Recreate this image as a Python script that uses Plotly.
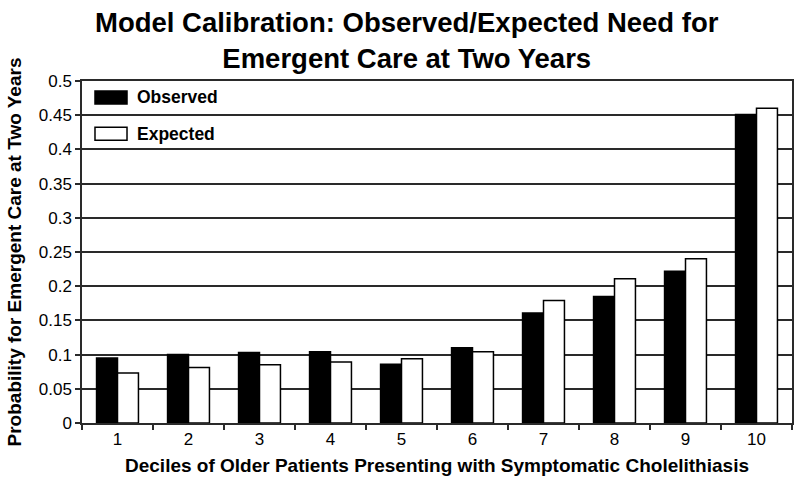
import plotly.graph_objects as go

deciles = ["1", "2", "3", "4", "5", "6", "7", "8", "9", "10"]
observed = [0.095, 0.100, 0.103, 0.104, 0.086, 0.110, 0.161, 0.185, 0.222, 0.451]
expected = [0.073, 0.081, 0.085, 0.089, 0.094, 0.104, 0.179, 0.211, 0.240, 0.460]
series_names = ["Observed", "Expected"]
series_colors = ["#000000", "#ffffff"]
y_tickvals = [0, 0.05, 0.1, 0.15, 0.2, 0.25, 0.3, 0.35, 0.4, 0.45, 0.5]
y_ticktext = ["0", "0.05", "0.1", "0.15", "0.2", "0.25", "0.3", "0.35", "0.4", "0.45", "0.5"]
title_lines = ["Model Calibration: Observed/Expected Need for", "Emergent Care at Two Years"]

FONT = "Liberation Sans, Arial, sans-serif"
LINE = "#2a2a2a"

fig = go.Figure()
for name, vals, col in zip(series_names, [observed, expected], series_colors):
    fig.add_trace(go.Bar(
        x=deciles, y=vals, name=name,
        marker=dict(color=col, line=dict(color="#000000", width=1.5)),
        showlegend=False, hoverinfo="skip",
    ))

# custom legend (wide swatches like the original)
legend_rows = [(0.971, 0.933), (0.865, 0.827)]
for (y1, y0), name, col in zip(legend_rows, series_names, series_colors):
    fig.add_shape(type="rect", xref="paper", yref="paper",
                  x0=0.0183, x1=0.0634, y0=y0, y1=y1,
                  fillcolor=col, line=dict(color="#000000", width=1.5))
    fig.add_annotation(xref="paper", yref="paper", x=0.0746, y=(y0 + y1) / 2,
                       text="<b>" + name + "</b>", showarrow=False,
                       xanchor="left", yanchor="middle",
                       font=dict(family=FONT, size=17.5, color="#000000"))

# title as annotation (two centred lines)
fig.add_annotation(xref="paper", yref="paper", x=0.458, y=1.222,
                   text="<b>" + "<br>".join(title_lines) + "</b>", showarrow=False,
                   xanchor="center", yanchor="top", align="center",
                   font=dict(family=FONT, size=27.5, color="#000000"))

fig.update_layout(
    width=800, height=482,
    margin=dict(l=82, r=8, t=81, b=59, autoexpand=False),
    paper_bgcolor="#ffffff", plot_bgcolor="#ffffff",
    font=dict(family=FONT, color="#000000"),
    barmode="group", bargap=0.41, bargroupgap=0,
    xaxis=dict(
        type="category", tickson="boundaries", ticks="outside", ticklen=5,
        tickwidth=1.5, tickcolor=LINE, showgrid=False, automargin=False,
        showline=True, linecolor=LINE, linewidth=1.5, mirror=True,
        tickfont=dict(family=FONT, size=17, color="#000000"),
        title=dict(text="<b>Deciles of Older Patients Presenting with Symptomatic Cholelithiasis</b>",
                   font=dict(family=FONT, size=19, color="#000000"), standoff=11),
    ),
    yaxis=dict(
        range=[0, 0.5], tickvals=y_tickvals, ticktext=y_ticktext,
        ticks="outside", ticklen=5, tickwidth=1.5, tickcolor=LINE, automargin=False,
        showgrid=True, gridcolor=LINE, gridwidth=1.5, zeroline=False,
        showline=True, linecolor=LINE, linewidth=1.5, mirror=True,
        tickfont=dict(family=FONT, size=17, color="#000000"),
        title=dict(text="<b>Probability for Emergent Care at Two Years</b>",
                   font=dict(family=FONT, size=19, color="#000000"), standoff=12),
    ),
)

fig.write_html("out.html", config={"displayModeBar": False},
               post_script="document.body.style.margin='0px';")
